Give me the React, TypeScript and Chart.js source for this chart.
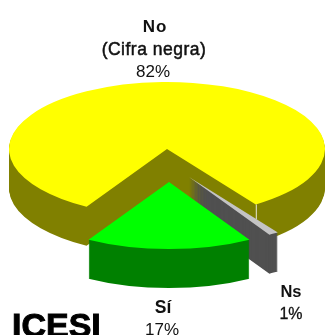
import React, { useEffect, useRef } from "react";
import { Chart, registerables } from "chart.js";

Chart.register(...registerables);

// Survey shares, clockwise from the left edge of the cut-out.
const categories = ["No (Cifra negra)", "Ns", "Sí"];
const shares = [82, 1, 17];
const topColors = ["#ffff00", "#c4c4c4", "#00ff00"];
const sideColors = ["#808000", "#505050", "#008000"];

// How far each slice is pulled out of the pie, in screen pixels.
const pullX = [0, 22, 2];
const pullY = [0, 28, 33];

const PIE_RADIUS = 158;
const TILT = 0.424;
const DEPTH = 39;
const START_ANGLE = 210.6;

const captionLines = [
  { text: "No", x: 155, y: 32, font: "bold 17px 'Liberation Sans'", spacing: "1px" },
  { text: "(Cifra negra)", x: 154, y: 55, font: "17.5px 'Liberation Sans'", spacing: "0.5px", heavy: 0.5 },
  { text: "82%", x: 153, y: 77, font: "17px 'Liberation Sans'", spacing: "0px", heavy: 0 },
  { text: "Sí", x: 163, y: 313, font: "bold 17.5px 'Liberation Sans'", spacing: "0px" },
  { text: "17%", x: 162, y: 335, font: "17px 'Liberation Sans'", spacing: "0px", heavy: 0 },
  { text: "Ns", x: 291, y: 297, font: "bold 16.5px 'Liberation Sans'", spacing: "0px" },
  { text: "1%", x: 291, y: 319, font: "16px 'Liberation Sans'", spacing: "0px", heavy: 0.3 },
];

const flatArc = (color: string) => ({
  backgroundColor: color,
  borderColor: "transparent",
  borderWidth: 0,
  borderAlign: "center",
  borderJoinStyle: "round",
  borderRadius: 0,
  offset: 0,
  spacing: 0,
  circular: true,
});

// Draws the pie arcs squashed into a tilted disc, extruded downwards.
const tiltedPie = {
  id: "tiltedPie",
  beforeDatasetDraw(chart: any, args: any) {
    const { ctx } = chart;
    const arcs = args.meta.data;
    arcs.forEach((arc: any, i: number) => {
      const saved = arc.options;
      const stamp = (drop: number, color: string) => {
        arc.options = flatArc(color);
        ctx.save();
        ctx.translate(pullX[i], pullY[i] + drop + arc.y);
        ctx.scale(1, TILT);
        ctx.translate(0, -arc.y);
        arc.draw(ctx);
        ctx.restore();
      };
      for (let drop = DEPTH; drop > 0; drop--) stamp(drop, sideColors[i]);
      stamp(0, topColors[i]);
      arc.options = saved;

      if (i === 0) {
        // Pale seam where the cut face meets the outer wall.
        const rimX = arc.x + PIE_RADIUS * Math.cos(arc.endAngle);
        const rimY = arc.y + PIE_RADIUS * Math.sin(arc.endAngle) * TILT;
        ctx.save();
        ctx.strokeStyle = "#e8e8d8";
        ctx.lineWidth = 1;
        ctx.beginPath();
        ctx.moveTo(rimX + 0.5, rimY);
        ctx.lineTo(rimX + 0.5, rimY + 15);
        ctx.stroke();
        ctx.restore();
      }
    });
    return false;
  },
  afterDraw(chart: any) {
    const { ctx } = chart;
    ctx.save();
    ctx.fillStyle = "#111";
    ctx.strokeStyle = "#111";
    ctx.textAlign = "center";
    for (const line of captionLines) {
      ctx.font = line.font;
      ctx.letterSpacing = line.spacing;
      ctx.fillText(line.text, line.x, line.y);
      if (line.heavy) {
        ctx.lineWidth = line.heavy;
        ctx.strokeText(line.text, line.x, line.y);
      }
    }
    ctx.letterSpacing = "0px";
    ctx.textAlign = "left";
    ctx.fillStyle = "#000";
    ctx.strokeStyle = "#000";
    ctx.lineWidth = 1;
    ctx.font = "bold 34px 'Liberation Sans'";
    ctx.fillText("ICESI", 12, 337);
    ctx.strokeText("ICESI", 12, 337);
    ctx.restore();
  },
};

export default function App() {
  const canvasRef = useRef<HTMLCanvasElement>(null);

  useEffect(() => {
    document.body.style.margin = "0";
    const chart = new Chart(canvasRef.current!, {
      type: "pie",
      data: {
        labels: categories,
        datasets: [{ data: shares, backgroundColor: topColors, borderWidth: 0 }],
      },
      options: {
        responsive: false,
        animation: false,
        radius: PIE_RADIUS,
        rotation: START_ANGLE,
        layout: { padding: { left: 9, right: 0, top: 0, bottom: 37 } },
        plugins: { legend: { display: false }, tooltip: { enabled: false } },
      },
      plugins: [tiltedPie],
    } as any);
    return () => chart.destroy();
  }, []);

  return (
    <div style={{ width: 325, height: 335, overflow: "hidden", background: "#fff" }}>
      <canvas ref={canvasRef} width={325} height={335} style={{ display: "block" }} />
    </div>
  );
}
